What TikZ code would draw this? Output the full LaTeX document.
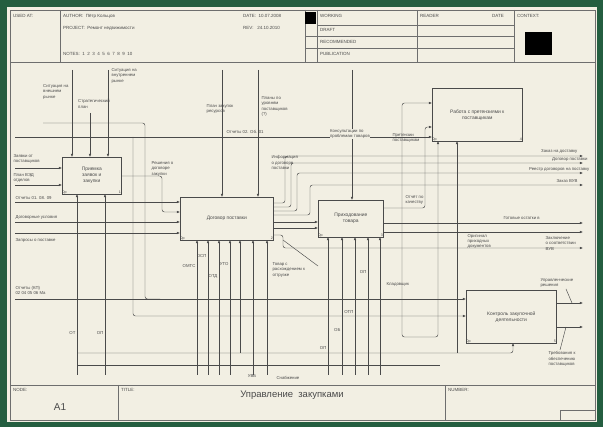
\documentclass[tikz,border=0pt]{standalone}
\usepackage{fontspec}
\setmainfont{Liberation Sans}
\usetikzlibrary{arrows.meta}
\definecolor{bgc}{HTML}{245E40}
\definecolor{page}{HTML}{F2EFE3}
\definecolor{linec}{HTML}{4A4A4A}
\definecolor{txtc}{HTML}{4A4A4A}
\tikzset{
  fr/.style={draw=linec!80, line width=0.5pt},
  ln/.style={draw=linec, line width=0.45pt, rounded corners=2.5pt},
  arr/.style={ln, -{Latex[length=3.2pt,width=2.6pt]}},
  box/.style={draw=linec, line width=0.6pt, fill=page, inner sep=1pt, align=center, anchor=north west,
              font=\fontsize{4.9}{6}\selectfont, text=txtc},
  lbl/.style={font=\fontsize{4.3}{5.3}\selectfont, text=txtc, align=left, inner sep=0.4pt},
  hdr/.style={font=\fontsize{4.5}{5.4}\selectfont, text=txtc, anchor=west, inner sep=0},
  num/.style={font=\fontsize{3.6}{4}\selectfont, text=txtc, inner sep=0.5pt},
}
\begin{document}
\begin{tikzpicture}[x=1pt,y=-1pt]
\useasboundingbox (0,0) rectangle (603,427);
\fill[bgc] (0,0) rectangle (603,427);
\fill[page] (7,7) rectangle (597,422);
% ---------- frame ----------
\draw[fr] (10,10) rectangle (595,420);
\draw[fr] (10,62) -- (595,62);
\draw[fr] (60,10) -- (60,62);
\draw[fr] (305,10) -- (305,62);
\draw[fr] (317,10) -- (317,62);
\draw[fr] (417,10) -- (417,62);
\draw[fr] (514,10) -- (514,62);
\draw[fr] (317,25) -- (514,25);
\draw[fr] (305,36) -- (514,36);
\draw[fr] (305,48) -- (514,48);
\fill[black] (305,12) rectangle (316,24);
\fill[black] (525,32) rectangle (552,55);
\node[hdr] (usedat) at (13,16) {USED AT:};
\node[hdr] (author) at (63,16) {AUTHOR:\ \ Пётр Кольцов};
\node[hdr] (project) at (63,28) {PROJECT:\ \ Ремонт недвижимости};
\node[hdr] (notes) at (63,54) {NOTES:\ \ 1\ \ 2\ \ 3\ \ 4\ \ 5\ \ 6\ \ 7\ \ 8\ \ 9\ \ 10};
\node[hdr] (date) at (243,16) {DATE:\ \ 10.07.2008};
\node[hdr] (rev) at (243,28) {REV:\ \ \ 24.10.2010};
\node[hdr] (working) at (320,16) {WORKING};
\node[hdr] (draft) at (320,30) {DRAFT};
\node[hdr] (recom) at (320,42) {RECOMMENDED};
\node[hdr] (publ) at (320,54) {PUBLICATION};
\node[hdr] (reader) at (420,16) {READER};
\node[hdr] (rdate) at (492,16) {DATE};
\node[hdr] (context) at (517,16) {CONTEXT:};
% bottom block
\draw[fr] (10,385) -- (595,385);
\draw[fr] (118,385) -- (118,420);
\draw[fr] (445,385) -- (445,420);
\draw[fr] (560,410) rectangle (595,420);
\node[hdr] (node) at (13,390) {NODE:};
\node[font=\fontsize{10}{11}\selectfont, text=txtc] (nodeA) at (60,407) {A1};
\node[hdr] (title) at (121,390) {TITLE:};
\node[font=\fontsize{9.5}{10}\selectfont, text=txtc] (titletxt) at (292,395) {Управление\ \ закупками};
\node[hdr] (number) at (448,390) {NUMBER:};
% ---------- boxes ----------
\node[box, minimum width=59pt, minimum height=37pt] (b1) at (62,157) {Приемка\\заявок и\\закупки};
\node[box, minimum width=93pt, minimum height=43pt] (b2) at (180,197) {Договор поставки};
\node[box, minimum width=65pt, minimum height=37pt] (b3) at (318,200) {Приходование\\товара};
\node[box, minimum width=90pt, minimum height=53pt] (b4) at (432,88) {Работа с претензиями к\\поставщикам};
\node[box, minimum width=90pt, minimum height=53pt] (b5) at (466,290) {Контроль закупочной\\деятельности};
\node[num, anchor=south west] (c1) at (b1.south west) {0р};
\node[num, anchor=south west] (c2) at (b2.south west) {0р};
\node[num, anchor=south west] (c3) at (b3.south west) {0р};
\node[num, anchor=south west] (c4) at (b4.south west) {0р};
\node[num, anchor=south west] (c5) at (b5.south west) {0р};
\node[num, anchor=south east] (n1) at (b1.south east) {1};
\node[num, anchor=south east] (n2) at (b2.south east) {2};
\node[num, anchor=south east] (n3) at (b3.south east) {3};
\node[num, anchor=south east] (n4) at (b4.south east) {4};
\node[num, anchor=south east] (n5) at (b5.south east) {5};
% ---------- B1 ----------
\draw[arr] (72,70) -- (72,157);
\draw[arr] (90,113) -- (90,157);
\draw[arr] (108,70) -- (108,157);
\node[lbl, anchor=north east] (l1) at (69,84) {Ситуация на\\внешнем\\рынке};
\node[lbl, anchor=north] (l2) at (94,99) {Стратегический\\план};
\node[lbl, anchor=north west] (l3) at (111,68) {Ситуация на\\внутреннем\\рынке};
\draw[arr] (15,168) -- (62,168);
\draw[arr] (15,185) -- (62,185);
\node[lbl, anchor=south west] (l4) at (13,164) {Заявки от\\поставщиков};
\node[lbl, anchor=south west] (l5) at (13,183) {План ВЭД\\отделов};
\draw[arr] (121,176) -- (162,176) -- (162,212) -- (180,212);
\node[lbl, anchor=north west] (l6) at (151,161) {Решения о\\договоре\\закупки};
% long lines
\draw[arr] (15,137) -- (432,137);
\draw[ln] (43,123) -- (145,123) -- (145,299) -- (160,299);
\draw[arr] (15,299) -- (466,299);
\draw[arr] (133,137) -- (133,316) -- (466,316);
\node[lbl, anchor=south west] (l7) at (15,295) {Отчеты (КП)\\02 04 05 06 Ма};
% ---------- B2 ----------
\draw[arr] (15,202) -- (180,202);
\draw[arr] (15,222) -- (180,222);
\draw[arr] (15,233) -- (180,233);
\node[lbl, anchor=south west] (l8) at (15,200) {Отчеты 01. 08. 09};
\node[lbl, anchor=south west] (l9) at (15,220) {Договорные условия};
\node[lbl, anchor=north west] (l10) at (15,238) {Запросы о поставке};
\draw[arr] (222,70) -- (222,197);
\draw[arr] (258,70) -- (258,197);
\node[lbl, anchor=north] (l11) at (220,104) {План закупок\\ресурсов};
\node[lbl, anchor=north west] (l12) at (261,96) {Планы по\\уровням\\поставщиков\\(?)};
\node[lbl, anchor=south west] (l13) at (226,134) {Отчеты 02. Об. 01};
\draw[arr] (273,203) -- (285,203) -- (285,156) -- (583,156);
\draw[arr] (273,207) -- (291,207) -- (291,163) -- (583,163);
\draw[arr] (273,211) -- (297,211) -- (297,173) -- (583,173);
\draw[arr] (273,215) -- (310,215) -- (310,185) -- (583,185);
\node[lbl, anchor=north west] (l14) at (271,155) {Информация\\о договоре\\поставки};
\node[lbl, anchor=south east] (l15) at (578,154) {Заказ на доставку};
\node[lbl, anchor=south east] (l16) at (588,161.5) {Договор поставки};
\node[lbl, anchor=south east] (l17) at (590,171.5) {Реестр договоров на поставку};
\node[lbl, anchor=south east] (l18) at (578,183.5) {Заказ ВУВ};
\draw[arr] (273,222) -- (318,222);
\draw[arr] (273,228) -- (318,228);
\draw[arr] (273,235) -- (283,235) -- (283,248) -- (583,248);
\draw[ln] (283,240) -- (318,266);
\node[lbl, anchor=north west] (l19) at (272,262) {Товар с\\расхождением к\\отгрузке};
\foreach \x in {197,208,219,230,253,267}{ \draw[arr] (\x,375) -- (\x,240); }
\draw[arr] (240,353) -- (240,240);
\node[lbl, anchor=east] (m1) at (196,266) {ОМТС};
\node[lbl, anchor=east] (m2) at (207,256) {ОСП};
\node[lbl, anchor=east] (m3) at (218,276) {ОТД};
\node[lbl, anchor=east] (m4) at (229,264) {УТО};
\node[lbl, anchor=south] (m5) at (252,378) {УВБ};
\node[lbl, anchor=south west] (m6) at (276,380) {Снабжение};
% ---------- B3 ----------
\draw[arr] (352,70) -- (352,200);
\node[lbl, anchor=center, fill=page] (l20) at (350,134) {Консультации по\\проблемам товаров};
\node[lbl, anchor=center] (l21) at (406,138) {Претензии\\поставщикам};
\draw[arr] (383,208) -- (425,208) -- (425,127) -- (432,127);
\node[lbl, anchor=south west] (l22) at (405,205) {Отчёт по\\качеству};
\draw[arr] (383,223) -- (583,223);
\draw[arr] (383,232) -- (583,232);
\node[lbl, anchor=south west] (l23) at (503,220.5) {Готовые остатки в};
\node[lbl, anchor=north west] (l24) at (467,233.5) {Оригинал\\приходных\\документов};
\node[lbl, anchor=north west] (l25) at (545,236) {Заключение\\о соответствии\\ВУВ};
\foreach \x in {328,342,355,368,380}{ \draw[arr] (\x,375) -- (\x,237); }
\node[lbl, anchor=east] (m7) at (327,348) {ОП};
\node[lbl, anchor=east] (m8) at (341,330) {ОБ};
\node[lbl, anchor=east] (m9) at (354,312) {ОТП};
\node[lbl, anchor=east] (m10) at (367,272) {ОП};
\node[lbl, anchor=west] (m11) at (386,284) {Кладовщик};
% ---------- B4 ----------
\draw[arr] (402,250) -- (402,103) -- (432,103);
\draw[arr] (402,250) -- (402,337) -- (438,337) -- (438,141);
% ---------- mechanisms / buses ----------
\draw[arr] (77,375) -- (77,194);
\draw[arr] (105,375) -- (105,194);
\node[lbl, anchor=east] (m12) at (76,333) {ОТ};
\node[lbl, anchor=east] (m13) at (104,333) {ОП};
\draw[arr] (77,353) -- (513,353) -- (513,343);
\draw[arr] (457,353) -- (457,141);
\draw[ln] (77,365) -- (440,365);
% ---------- B5 ----------
\draw[arr] (556,303) -- (583,303);
\draw[arr] (556,327) -- (583,327);
\draw[ln] (566,289) -- (572,303);
\draw[ln] (566,327) -- (560,350);
\node[lbl, anchor=south west] (l26) at (540,288) {Управленческие\\решения};
\node[lbl, anchor=north west] (l27) at (548,351) {Требования к\\обеспечению\\поставщиков};
\end{tikzpicture}
\end{document}
